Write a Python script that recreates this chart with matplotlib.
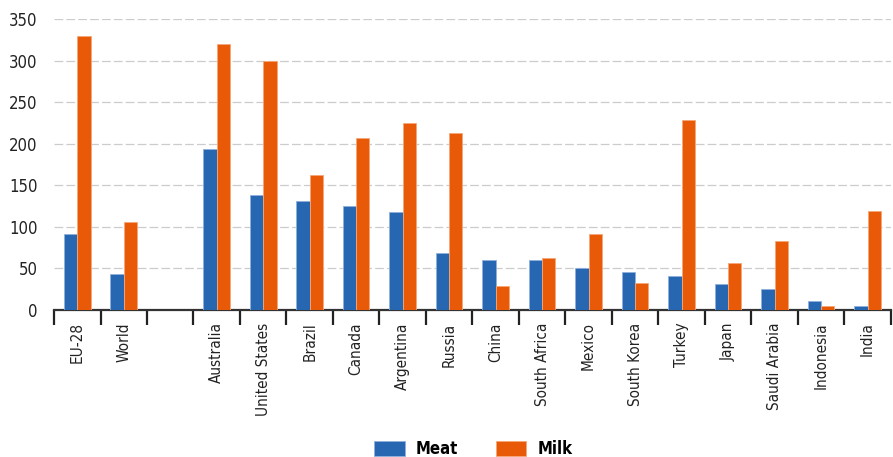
import numpy as np
import matplotlib.pyplot as plt
from matplotlib.ticker import FixedLocator

# values
countries = ['EU-28', 'World', '', 'Australia', 'United States', 'Brazil', 'Canada',
             'Argentina', 'Russia', 'China', 'South Africa', 'Mexico', 'South Korea',
             'Turkey', 'Japan', 'Saudi Arabia', 'Indonesia', 'India']
meat = [92, 43, np.nan, 194, 138, 131, 125, 118, 68, 60, 60, 50, 46, 41, 31, 25, 11, 4.5]
milk = [330, 106, np.nan, 320, 299, 162, 207, 225, 213, 29, 62, 92, 32, 228, 57, 83, 5, 119]

blue = '#2767b2'
orange = '#e85908'

fig = plt.figure(figsize=(8.93, 4.57), dpi=100)
ax = fig.add_axes([0.0605, 0.3217, 0.937, 0.6366])

x = np.arange(len(countries))
w = 0.286
ax.bar(x - w / 2, meat, w, color=blue, edgecolor='#8fb0dc', linewidth=0.6, label='Meat', zorder=3)
ax.bar(x + w / 2, milk, w, color=orange, edgecolor='#f5a878', linewidth=0.6, label='Milk', zorder=3)

ax.set_xlim(-0.5, len(countries) - 0.5)
ax.set_ylim(0, 350)
ax.set_yticks(np.arange(0, 351, 50))
for t in ax.get_yticklabels():
    t.set_fontstretch('condensed')
ax.yaxis.grid(True, color='#cccccc', linestyle=(0, (7, 2.5)), linewidth=0.9, zorder=0)
ax.tick_params(axis='y', length=0, pad=12, labelsize=12, labelcolor='#222222')

# separators as major ticks, labels on minor ticks
ax.xaxis.set_major_locator(FixedLocator(np.arange(-0.5, len(countries), 1.0)))
ax.xaxis.set_major_formatter(plt.NullFormatter())
ax.xaxis.set_minor_locator(FixedLocator(x))
ax.set_xticklabels(countries, minor=True, rotation=90, fontsize=11, fontstretch='condensed', color='#222222')
ax.tick_params(axis='x', which='major', length=11, width=1.6, color='#222222')
ax.tick_params(axis='x', which='minor', length=0, pad=9)

for s in ['top', 'right', 'left']:
    ax.spines[s].set_visible(False)
ax.spines['bottom'].set_linewidth(1.6)
ax.spines['bottom'].set_color('#333333')

fig.legend(loc='lower center', bbox_to_anchor=(0.53, -0.035), ncol=2, frameon=False,
           prop={'weight': 'bold', 'size': 12, 'stretch': 'condensed'},
           handlelength=1.85, handleheight=1.0, columnspacing=2.25, handletextpad=0.66)

fig.savefig('out.png', dpi=100)
